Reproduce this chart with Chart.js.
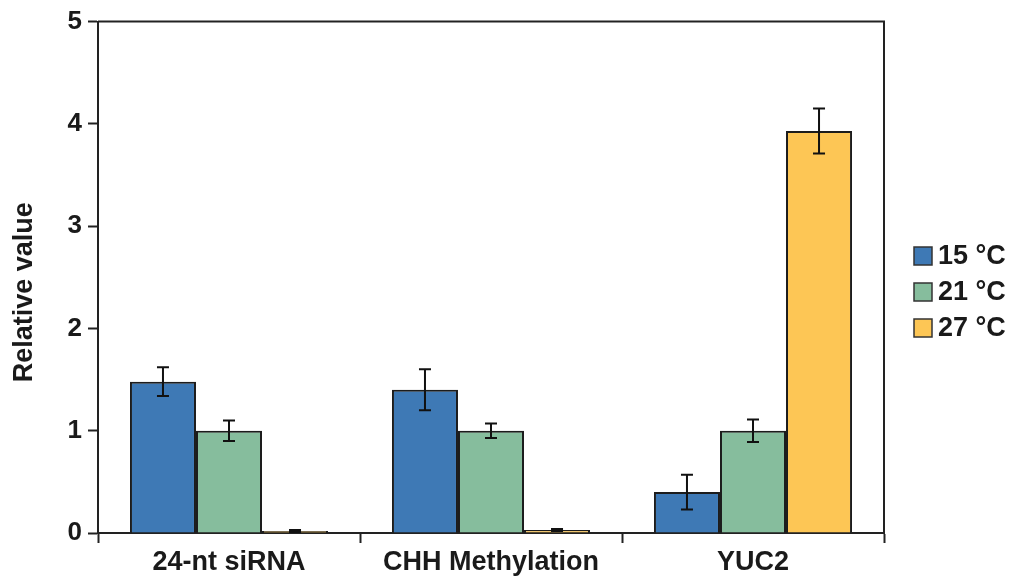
<!DOCTYPE html>
<html lang="en">
<head>
  <meta charset="UTF-8">
  <title>Relative value by temperature</title>
  <script src="https://cdn.jsdelivr.net/npm/chart.js"></script>
  <style>
    body { margin: 0; background: #fff; }
    #wrap { width: 1011px; height: 581px; }
  </style>
</head>
<body>
  <div id="wrap"><canvas id="chart"></canvas></div>

  <script>
    // data
    const categories = ['24-nt siRNA', 'CHH Methylation', 'YUC2'];
    const seriesNames = ['15 °C', '21 °C', '27 °C'];
    const val15 = [1.48, 1.40, 0.40];
    const val21 = [1.00, 1.00, 1.00];
    const val27 = [0.02, 0.03, 3.93];
    const err15 = [0.14, 0.20, 0.17];
    const err21 = [0.10, 0.07, 0.11];
    const err27 = [0.01, 0.01, 0.22];
    const yTicks = [0, 1, 2, 3, 4, 5];

    const colors = ['#3e79b5', '#86bd9d', '#fdc655'];
    const fontFam = '"Liberation Sans", Arial, sans-serif';

    // error bars, frame and legend
    const extras = {
      id: 'extras',
      afterDatasetsDraw(chart) {
        const ctx = chart.ctx;
        const y = chart.scales.y;
        ctx.save();
        ctx.strokeStyle = '#111';
        ctx.lineWidth = 2;
        chart.data.datasets.forEach((ds, i) => {
          const meta = chart.getDatasetMeta(i);
          meta.data.forEach((bar, j) => {
            const v = ds.data[j], e = ds.err[j];
            const yt = y.getPixelForValue(v + e);
            const yb = y.getPixelForValue(Math.max(0, v - e));
            ctx.beginPath();
            ctx.moveTo(bar.x, yt); ctx.lineTo(bar.x, yb);
            ctx.moveTo(bar.x - 6, yt); ctx.lineTo(bar.x + 6, yt);
            ctx.moveTo(bar.x - 6, yb); ctx.lineTo(bar.x + 6, yb);
            ctx.stroke();
          });
        });
        ctx.restore();
      },
      afterDraw(chart) {
        const ctx = chart.ctx;
        const a = chart.chartArea;
        ctx.save();
        ctx.strokeStyle = '#222';
        ctx.lineWidth = 2;
        ctx.beginPath();
        ctx.moveTo(a.left, a.top); ctx.lineTo(a.right, a.top); ctx.lineTo(a.right, a.bottom);
        ctx.stroke();

        // legend
        ctx.font = 'bold 27px ' + fontFam;
        ctx.textBaseline = 'middle';
        ctx.fillStyle = '#1a1a1a';
        chart.data.datasets.forEach((ds, i) => {
          const cy = 256 + i * 36;
          ctx.fillStyle = ds.backgroundColor;
          ctx.fillRect(914, cy - 9, 18, 18);
          ctx.lineWidth = 1.5;
          ctx.strokeStyle = '#333';
          ctx.strokeRect(914, cy - 9, 18, 18);
          ctx.fillStyle = '#1a1a1a';
          ctx.fillText(ds.label, 938, cy + 1);
        });
        ctx.restore();
      }
    };

    const sets = [val15, val21, val27];
    const errs = [err15, err21, err27];

    new Chart(document.getElementById('chart'), {
      type: 'bar',
      data: {
        labels: categories,
        datasets: seriesNames.map((name, i) => ({
          label: name,
          data: sets[i],
          err: errs[i],
          backgroundColor: colors[i],
          borderColor: '#1c1c1c',
          borderWidth: 2,
          categoryPercentage: 0.756,
          barPercentage: 1.0
        }))
      },
      options: {
        responsive: true,
        maintainAspectRatio: false,
        animation: false,
        layout: { padding: { top: 20, right: 127, left: 0, bottom: 0 } },
        plugins: {
          legend: { display: false },
          tooltip: { enabled: false }
        },
        scales: {
          x: {
            offset: true,
            grid: { offset: true, drawOnChartArea: false, drawTicks: true, tickLength: 10, tickColor: '#222', tickWidth: 2 },
            border: { color: '#222', width: 2 },
            ticks: { color: '#1a1a1a', padding: 3, font: { family: fontFam, size: 27, weight: 'bold' } },
            afterFit(s) { s.height = 48; }
          },
          y: {
            min: 0,
            max: 5,
            afterBuildTicks(s) { s.ticks = yTicks.map(v => ({ value: v })); },
            grid: { drawOnChartArea: false, drawTicks: true, tickLength: 10, tickColor: '#222', tickWidth: 2 },
            border: { color: '#222', width: 2 },
            ticks: { color: '#1a1a1a', padding: 6, font: { family: fontFam, size: 26, weight: 'bold' } },
            title: {
              display: true,
              text: 'Relative value    ',
              color: '#1a1a1a',
              padding: { top: 8, bottom: 0 },
              font: { family: fontFam, size: 27, weight: 'bold' }
            },
            afterFit(s) { s.width = 98; }
          }
        }
      },
      plugins: [extras]
    });
  </script>
</body>
</html>
